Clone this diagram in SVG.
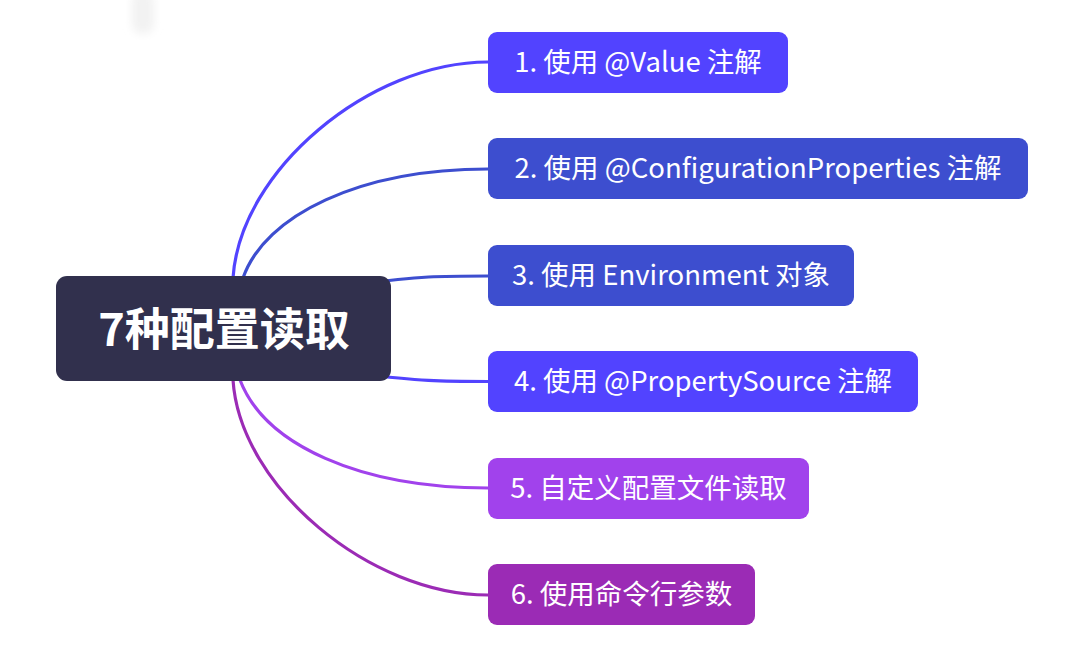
<svg xmlns="http://www.w3.org/2000/svg" width="1068" height="670" viewBox="0 0 1068 670">
  <style>
    .child text { font-family: "Noto Sans CJK SC", "Microsoft YaHei", sans-serif; font-size: 27.5px; fill: #ffffff; text-anchor: middle; }
    .root text { font-family: "Noto Sans CJK SC", sans-serif; font-size: 45px; font-weight: bold; fill: #ffffff; text-anchor: middle; }
    .edge { fill: none; stroke-width: 3.2; stroke-linecap: round; }
  </style>
  <defs>
    <filter id="blur" x="-50%" y="-50%" width="200%" height="200%">
      <feGaussianBlur stdDeviation="4"/>
    </filter>
  </defs>
  <rect width="1068" height="670" fill="#ffffff"/>
  <rect x="132" y="-10" width="22" height="44" rx="10" fill="#f2f2f2" filter="url(#blur)"/>

  <g id="connectors">
    <path class="edge" stroke="#5243ff" d="M233,278 C240,170 370,62 488,62"/>
    <path class="edge" stroke="#3d4ecf" d="M243,278 C265,215 360,169 488,169"/>
    <path class="edge" stroke="#3d4ecf" d="M360,284 C420,276 440,276 488,276"/>
    <path class="edge" stroke="#5243ff" d="M360,374 C420,381 440,381.5 488,381.5"/>
    <path class="edge" stroke="#a142ec" d="M240,380 C265,445 360,488 488,488"/>
    <path class="edge" stroke="#9b2bb5" d="M233,380 C240,487 370,595 488,595"/>
  </g>

  <g id="root" class="root">
    <rect x="56" y="276" width="335" height="105" rx="11" fill="#31304d"/>
    <text x="224" y="346">7种配置读取</text>
  </g>

  <g id="n1" class="child">
    <rect x="488" y="32" width="300" height="61" rx="9" fill="#5243ff"/>
    <text x="638" y="72">1. 使用 @Value 注解</text>
  </g>
  <g id="n2" class="child">
    <rect x="488" y="138" width="540" height="61" rx="9" fill="#3d4ecf"/>
    <text x="758" y="178">2. 使用 @ConfigurationProperties 注解</text>
  </g>
  <g id="n3" class="child">
    <rect x="488" y="245" width="366" height="61" rx="9" fill="#3d4ecf"/>
    <text x="671" y="285">3. 使用 Environment 对象</text>
  </g>
  <g id="n4" class="child">
    <rect x="488" y="351" width="430" height="61" rx="9" fill="#5243ff"/>
    <text x="703" y="391">4. 使用 @PropertySource 注解</text>
  </g>
  <g id="n5" class="child">
    <rect x="488" y="458" width="321" height="61" rx="9" fill="#a142ec"/>
    <text x="648.5" y="498">5. 自定义配置文件读取</text>
  </g>
  <g id="n6" class="child">
    <rect x="488" y="564" width="267" height="61" rx="9" fill="#9b2bb5"/>
    <text x="621.5" y="604">6. 使用命令行参数</text>
  </g>
</svg>
